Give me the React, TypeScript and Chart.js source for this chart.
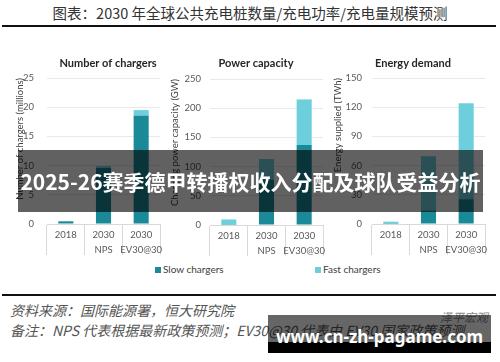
import { useEffect, useRef } from 'react';
import { Chart, registerables } from 'chart.js';
Chart.register(...registerables);

const categories = [['2018'], ['2030', 'NPS'], ['2030', 'EV30@30']];
const seriesNames = ['Slow chargers', 'Fast chargers'];
const chargersSlow = [0.45, 9.6, 18.6];
const chargersFast = [0.05, 0.3, 0.9];
const powerSlow = [0.5, 78, 137];
const powerFast = [9, 35, 78];
const energySlow = [0.3, 14, 25.5];
const energyFast = [2.1, 55.5, 98.5];
const chargersTicks = [0, 5, 10, 15, 20, 25];
const powerTicks = [0, 50, 100, 150, 200, 250];
const energyTicks = [0, 30, 60, 90, 120, 150];
const panelTitles = ['Number of chargers', 'Power capacity', 'Energy demand'];
const axisTitles = ['Number of chargers (millions)', 'Charging power capacity (GW)', 'Energy supplied (TWh)'];

const SLOW = '#1a8a99';
const FAST = '#6ecfdc';
const FONT = 'Lato, "Noto Sans", sans-serif';

const panelTitlePlugin = {
  id: 'panelTitle',
  afterDraw(chart: any, _args: any, opts: any) {
    const { ctx } = chart;
    ctx.save();
    ctx.font = `bold 11px ${FONT}`;
    ctx.fillStyle = '#262626';
    ctx.textAlign = 'center';
    ctx.textBaseline = 'middle';
    ctx.fillText(opts.text, opts.x, opts.y);
    ctx.restore();
  },
};

type Panel = {
  left: number; width: number; top: number; height: number;
  padTop: number; padRight: number; axisW: number; tickPad: number; titlePad: number;
  titleX: number; titleY: number;
  slow: number[]; fast: number[]; ticks: number[]; title: string; yTitle: string;
};

const panels: Panel[] = [
  { left: 0, width: 165, top: 50, height: 210, padTop: 28, padRight: 5, axisW: 47, tickPad: 13, titlePad: 14.3, titleX: 108, titleY: 13, slow: chargersSlow, fast: chargersFast, ticks: chargersTicks, title: panelTitles[0], yTitle: axisTitles[0] },
  { left: 165, width: 165, top: 50, height: 211, padTop: 29, padRight: 7, axisW: 45, tickPad: 9, titlePad: 4.3, titleX: 91, titleY: 13, slow: powerSlow, fast: powerFast, ticks: powerTicks, title: panelTitles[1], yTitle: axisTitles[1] },
  { left: 330, width: 170, top: 50, height: 210, padTop: 28, padRight: 15, axisW: 42, tickPad: 10, titlePad: 2.3, titleX: 83, titleY: 13, slow: energySlow, fast: energyFast, ticks: energyTicks, title: panelTitles[2], yTitle: axisTitles[2] },
];

function BarPanel({ p }: { p: Panel }) {
  const ref = useRef<HTMLCanvasElement>(null);
  useEffect(() => {
    if (!ref.current) return;
    const chart = new Chart(ref.current, {
      type: 'bar',
      data: {
        labels: categories as any,
        datasets: [
          { label: seriesNames[0], data: p.slow, backgroundColor: SLOW, borderWidth: 0, barPercentage: 0.8, categoryPercentage: 0.5 },
          { label: seriesNames[1], data: p.fast, backgroundColor: FAST, borderWidth: 0, barPercentage: 0.8, categoryPercentage: 0.5 },
        ],
      },
      plugins: [panelTitlePlugin as any],
      options: {
        animation: false,
        responsive: false,
        devicePixelRatio: 1,
        layout: { padding: { top: p.padTop, right: p.padRight, left: 0, bottom: 0 } },
        plugins: {
          legend: { display: false },
          tooltip: { enabled: false },
          title: { display: false },
          panelTitle: { text: p.title, x: p.titleX, y: p.titleY },
        } as any,
        scales: {
          x: {
            stacked: true,
            grid: { drawOnChartArea: false, drawTicks: true, tickLength: 31, color: '#d9d9d9', offset: true },
            border: { display: true, color: '#d9d9d9' },
            ticks: { padding: -27, color: '#595959', font: { family: FONT, size: 9.5, lineHeight: 1.55 }, maxRotation: 0, autoSkip: false },
            afterFit: (s: any) => { s.height = 36; },
          },
          y: {
            stacked: true,
            min: p.ticks[0],
            max: p.ticks[p.ticks.length - 1],
            ticks: { stepSize: p.ticks[1] - p.ticks[0], padding: p.tickPad, color: '#595959', font: { family: FONT, size: 9.5 } },
            grid: { color: '#e9e9e9', drawTicks: false },
            border: { display: false },
            title: { display: true, text: p.yTitle, align: 'end', color: '#404040', font: { family: FONT, size: 9.5 }, padding: { top: p.titlePad, bottom: 0 } },
            afterFit: (s: any) => { s.width = p.axisW; },
          },
        },
      } as any,
    });
    return () => chart.destroy();
  }, [p]);
  return (
    <canvas
      ref={ref}
      width={p.width}
      height={p.height}
      style={{ position: 'absolute', left: p.left, top: p.top, width: p.width, height: p.height }}
    />
  );
}

export default function App() {
  const cjk = '"Noto Sans CJK SC", sans-serif';
  return (
    <div style={{ position: 'fixed', left: 0, top: 0, width: 500, height: 362, background: '#fff', overflow: 'hidden' }}>
      <div style={{ position: 'absolute', left: 0, top: 4, width: 500, textAlign: 'center', fontFamily: cjk, fontSize: 14.5, color: '#333', lineHeight: '18px', whiteSpace: 'nowrap' }}>
        图表：2030 年全球公共充电桩数量/充电功率/充电量规模预测
      </div>
      <div style={{ position: 'absolute', left: 2, top: 25, width: 494, height: 2, background: '#111' }} />
      {panels.map((p, i) => <BarPanel key={i} p={p} />)}
      <div style={{ position: 'absolute', left: 155, top: 267, width: 6, height: 6, background: SLOW }} />
      <div style={{ position: 'absolute', left: 163, top: 263, fontFamily: FONT, fontSize: 10, color: '#404040', lineHeight: '13px', whiteSpace: 'nowrap' }}>{seriesNames[0]}</div>
      <div style={{ position: 'absolute', left: 315, top: 267, width: 6, height: 6, background: FAST }} />
      <div style={{ position: 'absolute', left: 323, top: 263, fontFamily: FONT, fontSize: 10, color: '#404040', lineHeight: '13px', whiteSpace: 'nowrap' }}>{seriesNames[1]}</div>
      <div style={{ position: 'absolute', left: 2, top: 294, width: 494, height: 2, background: '#111' }} />
      <div style={{ position: 'absolute', left: 10, top: 301, fontFamily: cjk, fontSize: 14, fontStyle: 'italic', color: '#555', lineHeight: '18px', whiteSpace: 'nowrap' }}>
        资料来源：国际能源署，恒大研究院
      </div>
      <div style={{ position: 'absolute', left: 10, top: 321, fontFamily: cjk, fontSize: 14, fontStyle: 'italic', color: '#555', lineHeight: '18px', whiteSpace: 'nowrap' }}>
        备注：NPS 代表根据最新政策预测；EV30@30 代表由 EV30 国家政策预测
      </div>
      <div style={{ position: 'absolute', left: 440, top: 309, fontFamily: cjk, fontSize: 12, fontStyle: 'italic', color: '#888', lineHeight: '16px', whiteSpace: 'nowrap' }}>
        泽平宏观
      </div>
      <div style={{ position: 'absolute', left: 18, top: 150, width: 465, height: 62, background: 'rgba(0,0,0,0.62)' }} />
      <div style={{ position: 'absolute', left: 18, top: 150, width: 465, height: 62, display: 'flex', alignItems: 'center', justifyContent: 'center', fontFamily: cjk, fontWeight: 700, fontSize: 21, color: '#fff', whiteSpace: 'nowrap' }}>
        2025-26赛季德甲转播权收入分配及球队受益分析
      </div>
      <div style={{ position: 'absolute', left: 268, top: 315, width: 223, height: 27, background: 'rgba(0,0,0,0.6)' }} />
      <div style={{ position: 'absolute', left: 268, top: 342, width: 223, height: 11, background: '#000' }} />
      <div style={{ position: 'absolute', left: 268, top: 326, width: 223, textAlign: 'center', fontFamily: '"Noto Sans", sans-serif', fontWeight: 700, fontSize: 17, color: '#fff', lineHeight: '22px', whiteSpace: 'nowrap' }}>
        www.cn-zh-pagame.com
      </div>
    </div>
  );
}
